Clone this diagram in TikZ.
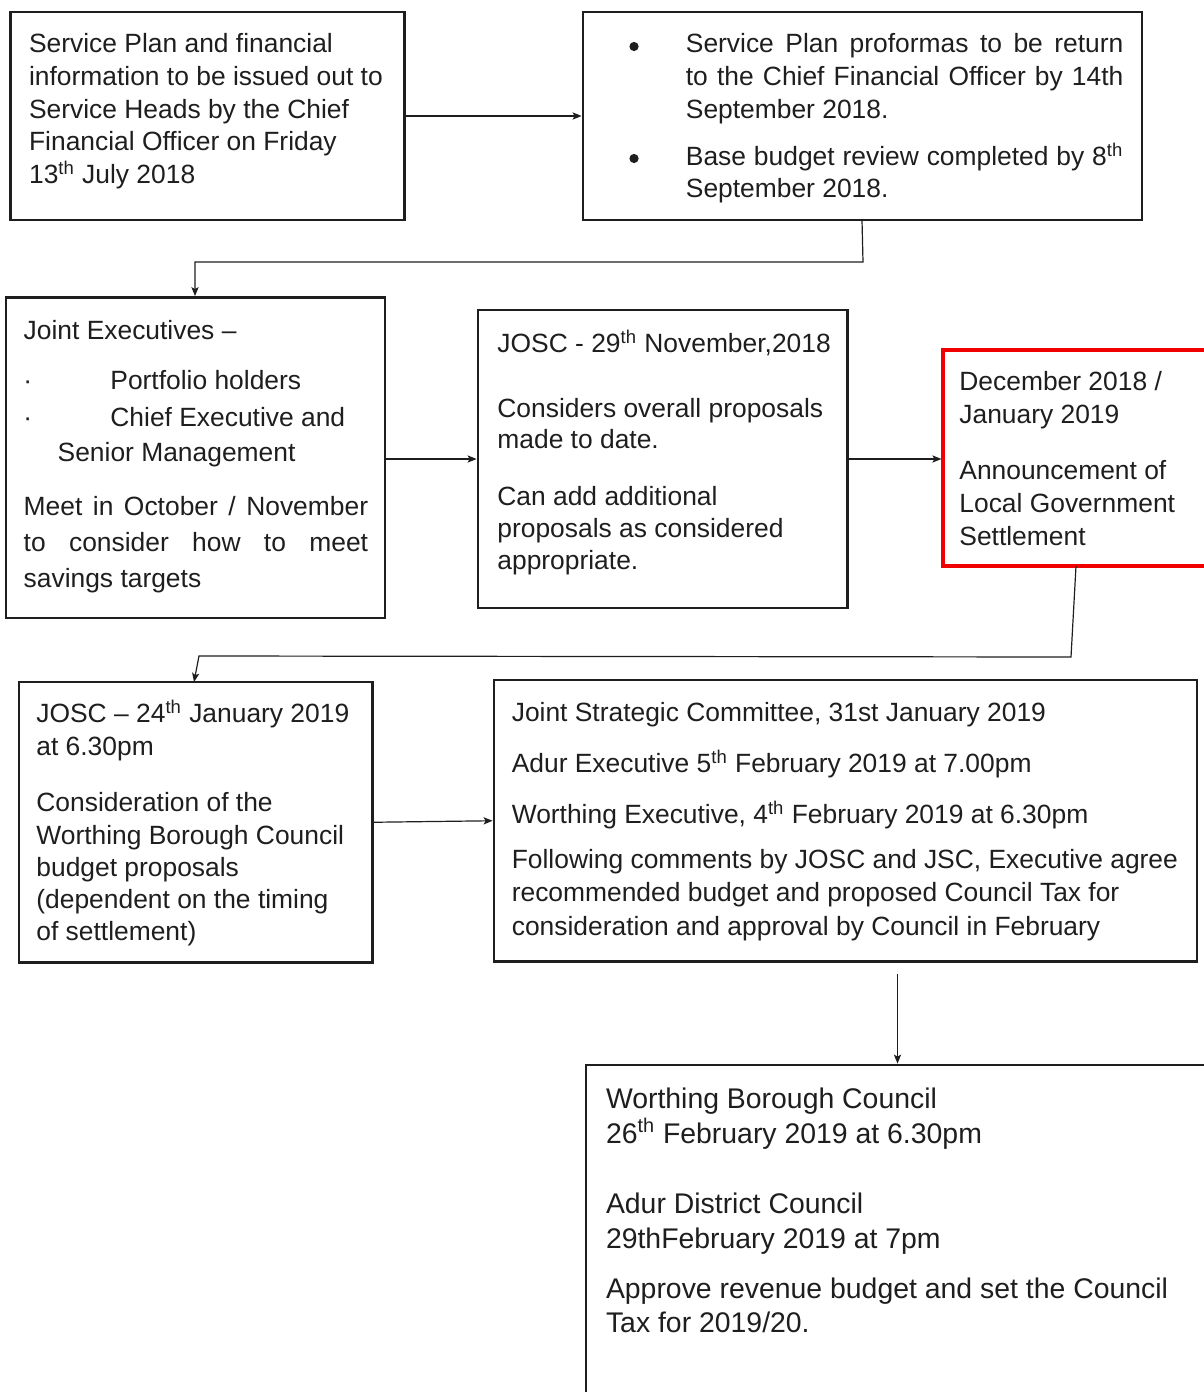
\documentclass[tikz,border=0pt]{standalone}
\usepackage{fontspec}
\setmainfont{Liberation Sans}
\usetikzlibrary{arrows.meta,fit,calc}
\definecolor{ink}{HTML}{1E1E1E}
\definecolor{redline}{HTML}{F00000}
\begin{document}
\begin{tikzpicture}[x=0.5pt,y=-0.5pt,
 stagebox/.style={draw=ink, line width=1.4pt, inner sep=0pt},
 alertbox/.style={draw=redline, line width=1.6pt, inner sep=0pt},
 txt/.style={anchor=base west, inner sep=0pt, text=ink, font=\fontsize{13.2pt}{16pt}\selectfont},
 bigtxt/.style={txt, font=\fontsize{14.2pt}{17pt}\selectfont},
 dotmark/.style={circle, fill=ink, draw=none, minimum size=4.6pt, inner sep=0pt},
 arr/.style={draw=ink, line width=0.6pt, -{Stealth[length=4.5pt,width=3.6pt,inset=1pt]}},
 link/.style={draw=ink, line width=0.6pt}]
\useasboundingbox (0,0) rectangle (1204,1392);
\clip (0,0) rectangle (1204,1392);

% boxes
\node[stagebox, fit={(10.5,12) (404.5,220)}] (b1) {};
\node[stagebox, fit={(583,12) (1142,220)}] (b2) {};
\node[stagebox, fit={(6,297.5) (385,618)}] (b3) {};
\node[stagebox, fit={(478,310) (847.5,608)}] (b4) {};
\node[alertbox, fit={(943,350) (1214,566)}] (b5) {};
\node[stagebox, fit={(19,682) (372.5,962.5)}] (b6) {};
\node[stagebox, fit={(494,680) (1197,961.5)}] (b7) {};
\node[stagebox, fit={(586,1065) (1214,1410)}] (b8) {};

% box 1
\node[txt] (t1a) at (28.7,53) {Service Plan and financial};
\node[txt] (t1b) at (28.7,85.5) {information to be issued out to};
\node[txt] (t1c) at (28.7,118) {Service Heads by the Chief};
\node[txt] (t1d) at (28.7,150.5) {Financial Officer on Friday};
\node[txt] (t1e) at (28.7,183) {13\textsuperscript{th} July 2018};

% box 2
\node[dotmark] (bu2a) at (634,46.5) {};
\node[dotmark] (bu2b) at (634,158.5) {};
\node[txt] (t2a) at (685.5,53) {\makebox[218.75pt][s]{Service Plan proformas to be return}};
\node[txt] (t2b) at (685.5,85.5) {\makebox[218.75pt][s]{to the Chief Financial Officer by 14th}};
\node[txt] (t2c) at (685.5,118) {September 2018.};
\node[txt] (t2d) at (685.5,165) {\makebox[218.75pt][s]{Base budget review completed by 8\textsuperscript{th}}};
\node[txt] (t2e) at (685.5,197) {September 2018.};

% box 3
\node[txt] (t3a) at (23.3,339.3) {Joint Executives –};
\node[txt] (bu3a) at (23,389.3) {·};
\node[txt] (t3b) at (110,389.3) {Portfolio holders};
\node[txt] (bu3b) at (23,426) {·};
\node[txt] (t3c) at (110,426) {Chief Executive and};
\node[txt] (t3d) at (57.3,461.7) {Senior Management};
\node[txt] (t3e) at (23.3,515) {\makebox[172.2pt][s]{Meet in October / November}};
\node[txt] (t3f) at (23.3,551) {\makebox[172.2pt][s]{to consider how to meet}};
\node[txt] (t3g) at (23.3,587) {savings targets};

% box 4
\node[txt] (t4a) at (497,352.7) {JOSC - 29\textsuperscript{th} November,2018};
\node[txt] (t4b) at (497,417.3) {Considers overall proposals};
\node[txt] (t4c) at (497,448.5) {made to date.};
\node[txt] (t4d) at (497,505) {Can add additional};
\node[txt] (t4e) at (497,537) {proposals as considered};
\node[txt] (t4f) at (497,569) {appropriate.};

% box 5
\node[txt] (t5a) at (959,390.5) {December 2018 /};
\node[txt] (t5b) at (959,423.3) {January 2019};
\node[txt] (t5c) at (959,479.5) {Announcement of};
\node[txt] (t5d) at (959,512) {Local Government};
\node[txt] (t5e) at (959,545) {Settlement};

% box 6
\node[txt] (t6a) at (36,722.5) {JOSC – 24\textsuperscript{th} January 2019};
\node[txt] (t6b) at (36,755) {at 6.30pm};
\node[txt] (t6c) at (36,811.5) {Consideration of the};
\node[txt] (t6d) at (36,844) {Worthing Borough Council};
\node[txt] (t6e) at (36,876) {budget proposals};
\node[txt] (t6f) at (36,908.5) {(dependent on the timing};
\node[txt] (t6g) at (36,940.5) {of settlement)};

% box 7
\node[txt] (t7a) at (511.4,721.7) {Joint Strategic Committee, 31st January 2019};
\node[txt] (t7b) at (511.4,772) {Adur Executive 5\textsuperscript{th} February 2019 at 7.00pm};
\node[txt] (t7c) at (511.4,823) {Worthing Executive, 4\textsuperscript{th} February 2019 at 6.30pm};
\node[txt] (t7d) at (511.4,868.5) {Following comments by JOSC and JSC, Executive agree};
\node[txt] (t7e) at (511.4,901.5) {recommended budget and proposed Council Tax for};
\node[txt] (t7f) at (511.4,935) {consideration and approval by Council in February};

% box 8
\node[bigtxt] (t8a) at (605.6,1108.3) {Worthing Borough Council};
\node[bigtxt] (t8b) at (605.6,1143) {26\textsuperscript{th} February 2019 at 6.30pm};
\node[bigtxt] (t8c) at (605.6,1213) {Adur District Council};
\node[bigtxt] (t8d) at (605.6,1248) {29thFebruary 2019 at 7pm};
\node[bigtxt] (t8e) at (605.6,1298) {Approve revenue budget and set the Council};
\node[bigtxt] (t8f) at (605.6,1332.5) {Tax for 2019/20.};

% connector points
\coordinate (c2a) at (862,220);
\coordinate (c2b) at (863,262);
\coordinate (c2c) at (195,262);
\coordinate (c5a) at (1076,566);
\coordinate (c5b) at (1071,657);
\coordinate (c5c) at (199,656);
\coordinate (c5d) at (194,682);
\coordinate (c7a) at (897.5,974);

% connectors
\draw[arr] (b1.east) -- (b2.west);
\draw[arr] (c2a) -- (c2b) -- (c2c) -- (c2c |- b3.north);
\draw[arr] (b4.west -| b3.east) -- (b4.west);
\draw[arr] (b4.east) -- (b4.east -| b5.west);
\draw[arr] (c5a) -- (c5b) -- (c5c) -- (c5d);
\draw[arr] (b6.east) -- (b7.west);
\draw[arr] (c7a) -- (c7a |- b8.north);
\end{tikzpicture}
\end{document}
